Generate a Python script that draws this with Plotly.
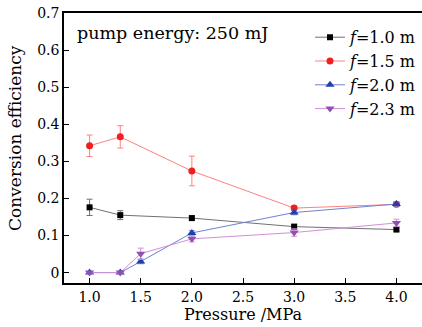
import plotly.graph_objects as go

pressure_a = [1.0, 1.3, 2.0, 3.0, 4.0]
pressure_b = [1.0, 1.3, 1.5, 2.0, 3.0, 4.0]

eff_f10 = [0.176, 0.155, 0.147, 0.124, 0.116]
err_f10 = [0.022, 0.012, 0.006, 0.006, 0.004]

eff_f15 = [0.342, 0.366, 0.274, 0.174, 0.184]
err_f15 = [0.029, 0.030, 0.040, 0.006, 0.006]

eff_f20 = [0.0, 0.0, 0.030, 0.107, 0.162, 0.185]
err_f20 = [0.003, 0.003, 0.006, 0.006, 0.006, 0.006]

eff_f23 = [0.0, 0.0, 0.051, 0.091, 0.108, 0.134]
err_f23 = [0.003, 0.003, 0.015, 0.008, 0.010, 0.010]

y_ticks = [0, 0.1, 0.2, 0.3, 0.4, 0.5, 0.6, 0.7]
y_ticktext = ["0", "0.1", "0.2", "0.3", "0.4", "0.5", "0.6", "0.7"]
x_ticks = [1.0, 1.5, 2.0, 2.5, 3.0, 3.5, 4.0]
x_ticktext = ["1.0", "1.5", "2.0", "2.5", "3.0", "3.5", "4.0"]

FONT = "DejaVu Serif"

fig = go.Figure()

series = [
    ("<i>f</i>=1.0 m", pressure_a, eff_f10, err_f10, "#000000", "#707070", "square", 6),
    ("<i>f</i>=1.5 m", pressure_a, eff_f15, err_f15, "#f02020", "#ff8080", "circle", 7),
    ("<i>f</i>=2.0 m", pressure_b, eff_f20, err_f20, "#2040b0", "#7080d0", "triangle-up", 8),
    ("<i>f</i>=2.3 m", pressure_b, eff_f23, err_f23, "#9050b0", "#d090d8", "triangle-down", 8),
]

for name, xs, ys, es, mc, lc, sym, sz in series:
    fig.add_trace(go.Scatter(
        x=xs, y=ys, name=name, mode="lines+markers",
        line=dict(color=lc, width=1),
        marker=dict(color=mc, symbol=sym, size=sz),
        error_y=dict(type="data", array=es, color=lc, thickness=1, width=3, visible=True),
    ))

fig.add_annotation(
    text="pump energy: 250 mJ", xref="paper", yref="paper",
    x=0.03, y=0.925, xanchor="left", yanchor="middle", showarrow=False,
    font=dict(family=FONT, size=17.5, color="black"),
)

# y-axis title as a rotated text placed where the reference shows it
fig.add_annotation(
    text="Conversion efficiency", xref="paper", yref="paper",
    x=-0.137, y=0.537, xanchor="center", yanchor="middle", showarrow=False,
    textangle=-90, font=dict(family=FONT, size=17, color="black"),
)

fig.update_layout(
    width=422, height=327,
    margin=dict(l=64, r=0, t=13, b=44, autoexpand=False),
    plot_bgcolor="white", paper_bgcolor="white",
    font=dict(family=FONT, size=15, color="black"),
    showlegend=True,
    legend=dict(
        x=1.0, y=0.973, xanchor="right", yanchor="top",
        bgcolor="rgba(0,0,0,0)", font=dict(family=FONT, size=16),
        tracegroupgap=0, itemwidth=30,
    ),
    xaxis=dict(
        range=[0.75, 4.25], tickvals=x_ticks, ticktext=x_ticktext,
        ticks="inside", ticklen=5, tickcolor="black",
        showline=True, linecolor="black", linewidth=1.5, mirror=True,
        showgrid=False, zeroline=False, automargin=False,
        title=dict(text="Pressure /MPa", font=dict(family=FONT, size=16), standoff=0),
        tickfont=dict(family=FONT, size=14),
    ),
    yaxis=dict(
        range=[-0.028, 0.7], tickvals=y_ticks, ticktext=y_ticktext,
        ticks="inside", ticklen=5, tickcolor="black",
        showline=True, linecolor="black", linewidth=1.5, mirror=False,
        showgrid=False, zeroline=False, automargin=False,
        tickfont=dict(family=FONT, size=14),
    ),
)

fig.write_html("out.html", post_script="document.body.style.margin='0';",
               config={"displayModeBar": False})
